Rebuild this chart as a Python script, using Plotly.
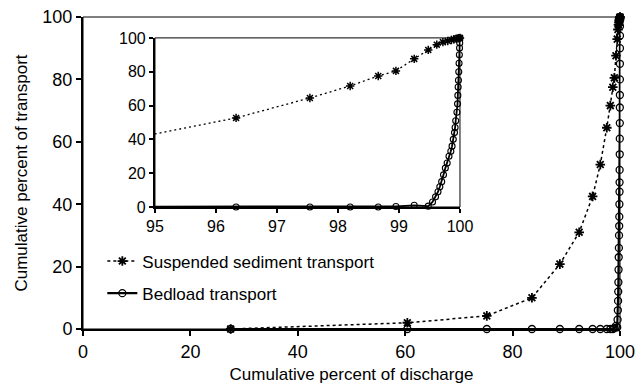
import plotly.graph_objects as go

# ---- data ----
susp_x = [27.5, 60.4, 75.2, 83.6, 88.8, 92.4, 94.9, 96.33, 97.54, 98.2, 98.66, 98.95,
          99.25, 99.48, 99.62, 99.72, 99.8, 99.86, 99.9, 99.94, 99.97, 100.0]
susp_y = [0.0, 2.0, 4.2, 10.0, 20.8, 31.0, 42.5, 52.7, 64.5, 71.6, 77.5, 80.5,
          87.6, 92.9, 96.0, 97.5, 98.2, 98.8, 99.2, 99.5, 99.8, 100.0]

bed_x = [27.5, 60.4, 75.2, 83.6, 88.8, 92.4, 94.9, 96.33, 97.54, 98.2, 98.66, 98.95,
         99.25, 99.48, 99.55, 99.6, 99.64, 99.67, 99.7, 99.73, 99.76, 99.79, 99.82,
         99.85, 99.87, 99.89, 99.91, 99.92, 99.93, 99.95, 99.96, 99.965, 99.97,
         99.975, 99.98, 99.985, 99.99, 99.993, 99.996, 100.0]
bed_y = [0.0, 0.0, 0.0, 0.0, 0.0, 0.0, 0.0, 0.0, 0.0, 0.0, 0.0, 0.3,
         1.0, 0.5, 3.0, 6.0, 9.0, 12.0, 15.0, 19.0, 23.0, 26.0, 30.0,
         33.0, 36.0, 40.0, 44.0, 47.0, 51.0, 56.0, 61.0, 66.0, 71.0,
         75.0, 80.0, 85.0, 90.0, 94.0, 97.0, 100.0]

main_xticks = [0, 20, 40, 60, 80, 100]
main_yticks = [0, 20, 40, 60, 80, 100]
inset_xticks = [95, 96, 97, 98, 99, 100]
inset_yticks = [0, 20, 40, 60, 80, 100]
inset_xmin = 95

FONT = "Liberation Sans, Arial, Helvetica, sans-serif"

fig = go.Figure()

# main plot
fig.add_trace(go.Scatter(
    x=susp_x, y=susp_y, mode="lines+markers", name="Suspended sediment transport",
    line=dict(color="black", width=1.5, dash="3px,3px"),
    marker=dict(symbol="asterisk-open", size=8, color="black", line=dict(width=1.8, color="black")),
    cliponaxis=False, legendgroup="a", xaxis="x", yaxis="y"))
fig.add_trace(go.Scatter(
    x=bed_x, y=bed_y, mode="lines+markers", name="Bedload transport",
    line=dict(color="black", width=2.2),
    marker=dict(symbol="circle-open", size=7, color="black", line=dict(width=1.3, color="black")),
    cliponaxis=False, legendgroup="b", xaxis="x", yaxis="y"))

# inset: lines (clipped) and markers (only inside range)
fig.add_trace(go.Scatter(
    x=susp_x, y=susp_y, mode="lines", showlegend=False,
    line=dict(color="black", width=1.3, dash="2px,3px"), xaxis="x2", yaxis="y2"))
sx = [x for x in susp_x if x >= inset_xmin]
sy = [y for x, y in zip(susp_x, susp_y) if x >= inset_xmin]
fig.add_trace(go.Scatter(
    x=sx, y=sy, mode="markers", showlegend=False, cliponaxis=False,
    marker=dict(symbol="asterisk-open", size=7, color="black", line=dict(width=1.5, color="black")),
    xaxis="x2", yaxis="y2"))
fig.add_trace(go.Scatter(
    x=bed_x, y=bed_y, mode="lines", showlegend=False,
    line=dict(color="black", width=1.8), xaxis="x2", yaxis="y2"))
bx = [x for x in bed_x if x >= inset_xmin]
by = [y for x, y in zip(bed_x, bed_y) if x >= inset_xmin]
fig.add_trace(go.Scatter(
    x=bx, y=by, mode="markers", showlegend=False, cliponaxis=False,
    marker=dict(symbol="circle-open", size=6, color="black", line=dict(width=1.1, color="black")),
    xaxis="x2", yaxis="y2"))

axis_common = dict(showgrid=False, zeroline=False, showline=True, linecolor="black",
                   linewidth=2, ticks="outside", tickcolor="black", tickwidth=1.5,
                   color="black", automargin=False)

fig.update_layout(
    width=636, height=386,
    margin=dict(l=83, r=16, t=17, b=57),
    paper_bgcolor="white", plot_bgcolor="white",
    font=dict(family=FONT, size=17, color="black"),
    xaxis=dict(domain=[0, 1], range=[0, 100], tickvals=main_xticks, ticklen=5,
               tickfont=dict(size=18),
               title=dict(text="Cumulative percent of discharge", font=dict(size=17), standoff=8),
               **axis_common),
    yaxis=dict(domain=[0, 1], range=[0, 100], tickvals=main_yticks, ticklen=5,
               tickfont=dict(size=18),
               title=dict(text="Cumulative percent of transport", font=dict(size=17), standoff=10),
               **axis_common),
    xaxis2=dict(domain=[0.134, 0.702], range=[95, 100], tickvals=inset_xticks, ticklen=4,
                tickfont=dict(size=16), anchor="y2", **axis_common),
    yaxis2=dict(domain=[0.391, 0.933], range=[0, 100], tickvals=inset_yticks, ticklen=4,
                tickfont=dict(size=16), anchor="x2", **axis_common),
    legend=dict(x=0.036, y=0.274, xanchor="left", yanchor="top", bgcolor="rgba(0,0,0,0)",
                font=dict(size=17), tracegroupgap=7, traceorder="grouped"),
    shapes=[
        dict(type="rect", xref="x domain", yref="y domain", x0=0, x1=1, y0=0, y1=1,
             line=dict(color="black", width=1)),
        dict(type="rect", xref="x2 domain", yref="y2 domain", x0=0, x1=1, y0=0, y1=1,
             line=dict(color="black", width=1)),
    ],
)

fig.write_html("out.html")
